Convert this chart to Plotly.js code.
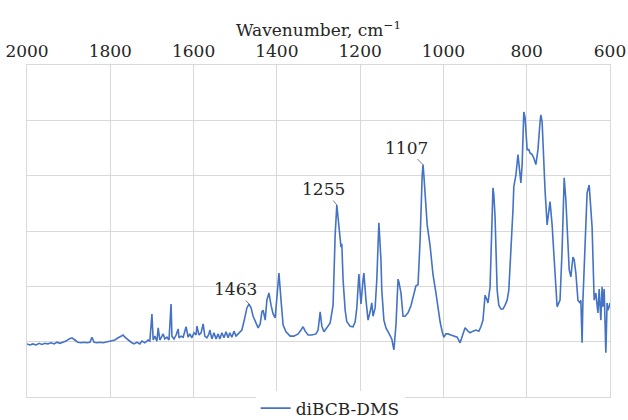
<!DOCTYPE html>
<html>
<head>
<meta charset="utf-8">
<script src="https://cdn.plot.ly/plotly-3.0.1.min.js"></script>
<style>html,body{margin:0;padding:0;background:#fff;}#chart{width:628px;height:420px;}</style>
</head>
<body>
<div id="chart"></div>
<script>
const wavenumber = [2000,1993,1986,1978,1971,1964,1957,1950,1942,1935,1928,1921,1914,1906,1899,1892,1885,1878,1870,1863,1856,1849,1844,1839,1832,1825,1817,1810,1803,1796,1789,1781,1774,1769,1765,1757,1750,1743,1736,1729,1724,1717,1709,1705,1700,1697,1693,1688,1685,1681,1673,1669,1664,1659,1654,1652,1647,1642,1637,1635,1630,1625,1621,1618,1613,1609,1604,1599,1594,1592,1587,1582,1577,1573,1568,1563,1561,1556,1551,1546,1541,1537,1532,1527,1522,1517,1513,1508,1503,1498,1493,1489,1484,1477,1472,1467,1462,1457,1452,1445,1440,1436,1433,1428,1424,1419,1414,1409,1404,1400,1395,1390,1385,1378,1368,1359,1349,1342,1337,1332,1325,1316,1306,1301,1296,1292,1287,1280,1272,1265,1260,1256,1251,1246,1244,1241,1236,1232,1224,1217,1212,1208,1203,1198,1193,1191,1186,1181,1176,1172,1169,1164,1160,1155,1150,1148,1143,1138,1133,1128,1124,1119,1114,1109,1107,1102,1097,1092,1085,1078,1071,1066,1061,1056,1051,1049,1047,1044,1039,1032,1025,1018,1013,1008,1003,999,994,989,982,975,967,960,955,948,941,936,929,922,915,910,905,900,895,893,888,886,881,879,876,871,867,862,857,852,847,843,838,833,831,826,821,816,814,811,809,807,804,802,799,795,792,787,783,778,773,768,766,763,761,756,751,746,744,739,737,732,727,722,720,715,713,710,706,703,698,694,689,686,682,677,672,670,667,665,660,655,650,648,643,638,636,634,631,629,626,624,622,619,617,614,612,610,607,605,602,600];
const absorbance = [0.96,0.94,0.96,0.94,0.97,0.95,0.97,0.96,0.98,0.96,0.99,0.97,0.99,1.01,1.05,1.07,1.03,0.99,0.98,0.99,0.98,0.99,1.08,0.99,0.98,0.99,0.98,0.99,1.00,1.01,1.03,1.07,1.10,1.12,1.08,1.03,0.99,0.96,0.99,0.96,1.01,0.98,1.03,1.01,1.50,1.03,1.10,1.01,1.25,1.03,1.14,1.05,1.08,1.03,1.68,1.10,1.05,1.12,1.23,1.07,1.10,1.08,1.18,1.27,1.08,1.14,1.07,1.16,1.12,1.28,1.12,1.16,1.32,1.10,1.07,1.14,1.21,1.05,1.16,1.05,1.14,1.05,1.16,1.07,1.18,1.07,1.16,1.08,1.19,1.10,1.14,1.18,1.21,1.43,1.61,1.68,1.61,1.46,1.36,1.25,1.32,1.54,1.57,1.39,1.75,1.88,1.66,1.50,1.43,1.75,2.24,1.75,1.30,1.18,1.10,1.10,1.14,1.21,1.27,1.19,1.12,1.12,1.14,1.21,1.54,1.28,1.18,1.25,1.34,1.66,2.93,3.47,3.11,2.71,2.77,2.12,1.57,1.36,1.28,1.27,1.36,1.61,2.22,1.68,2.12,2.24,1.75,1.39,1.54,1.70,1.46,1.61,2.12,3.15,2.48,1.93,1.39,1.25,1.18,1.12,1.05,0.85,1.30,2.13,2.08,1.88,1.46,1.46,1.52,1.65,1.88,2.01,2.03,2.84,4.01,4.20,4.01,3.69,3.11,2.73,2.21,1.88,1.61,1.36,1.18,1.08,1.14,1.14,1.12,1.10,1.08,0.98,1.08,1.25,1.19,1.16,1.19,1.21,1.19,1.27,1.39,1.84,1.75,1.70,1.99,2.66,3.78,3.65,3.25,1.93,1.66,1.59,1.59,1.66,1.75,1.93,2.57,3.38,3.80,4.01,4.38,4.01,3.87,4.20,4.83,5.15,5.05,4.74,4.47,4.47,4.41,4.38,4.32,4.20,4.47,4.97,5.10,4.97,4.52,3.74,3.11,3.42,3.53,3.11,2.78,2.24,1.63,1.70,1.75,2.66,3.29,3.96,3.56,3.07,2.30,2.17,2.53,2.48,2.24,1.75,1.70,1.75,0.98,1.75,2.89,3.69,3.83,3.65,3.07,1.75,1.83,1.88,1.66,1.52,1.95,1.59,1.39,1.99,1.63,1.95,1.34,0.80,1.70,1.57,1.63,1.70];
const seriesName = 'diBCB-DMS';
const xTicks = [2000,1800,1600,1400,1200,1000,800,600];
const peakLabels = ['1463','1255','1107'];
const peakAt = [1467,1256,1049];

const FONT = 'DejaVu Serif';
const FS = 17;
const offsets = [[-13,-15],[-13,-16],[-17,-17]];
const annotations = peakLabels.map((t,i)=>{
  const idx = wavenumber.indexOf(peakAt[i]);
  return {x: wavenumber[idx], y: absorbance[idx], xref:'x', yref:'y', text:t,
    showarrow:true, arrowhead:0, arrowwidth:0.8, arrowcolor:'#595959',
    ax: offsets[i][0], ay: offsets[i][1], standoff:0,
    font:{family:FONT, size:FS, color:'#262626'}};
});

const trace = {x: wavenumber, y: absorbance, type:'scatter', mode:'lines', name: seriesName,
  line:{color:'#4472C4', width:1.6}};

const layout = {
  width:628, height:420,
  margin:{l:27, r:18, t:65, b:23, pad:0, autoexpand:false},
  paper_bgcolor:'#fff', plot_bgcolor:'#fff',
  font:{family:FONT, size:FS, color:'#262626'},
  showlegend:true,
  legend:{orientation:'h', x:0.52, xanchor:'center', y:-0.035, yanchor:'middle',
    font:{family:FONT, size:FS, color:'#262626'}, itemwidth:30, tracegroupgap:0},
  xaxis:{side:'top', range:[2000,600], tickvals:xTicks, ticktext:xTicks.map(String),
    ticks:'', showgrid:true, gridcolor:'#d9d9d9', gridwidth:1,
    showline:true, linecolor:'#d9d9d9', mirror:true, zeroline:false,
    tickfont:{family:FONT, size:FS, color:'#262626'},
    title:{text:'Wavenumber, cm<sup>−1</sup>', font:{family:FONT, size:FS, color:'#262626'}, standoff:0}},
  yaxis:{range:[0,6], dtick:1, showticklabels:false, ticks:'', showgrid:true,
    gridcolor:'#d9d9d9', gridwidth:1, showline:true, linecolor:'#d9d9d9', mirror:true, zeroline:false},
  annotations: annotations
};
Plotly.newPlot('chart', [trace], layout, {displayModeBar:false, staticPlot:true});
</script>
</body>
</html>
